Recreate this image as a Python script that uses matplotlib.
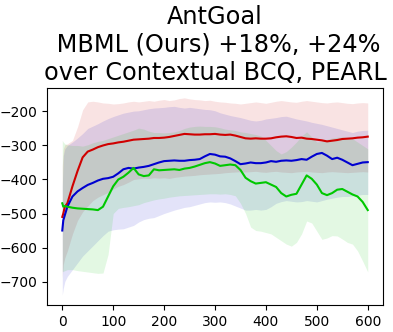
import numpy as np
import matplotlib
matplotlib.use("Agg")
import matplotlib.pyplot as plt

# training iterations (sampled from the reference curves)
steps = [0, 2, 5] + list(range(10, 601, 10))

# MBML (Ours)
mbml_mean = [-510, -500, -480, -470, -420, -375, -335, -318, -312, -305, -300, -296, -294,
             -291, -289, -286, -283, -282, -281, -280, -278, -278, -277, -275, -272, -269,
             -266, -267, -268, -268, -267, -267, -266, -268, -269, -268, -271, -275, -279,
             -280, -279, -280, -280, -279, -276, -274, -273, -275, -278, -277, -280, -281,
             -283, -285, -288, -286, -284, -281, -280, -279, -277, -276, -274]
mbml_lo = [-690, -650, -630, -610, -560, -520, -495, -478, -462, -452, -445, -438, -428,
           -420, -415, -408, -400, -398, -396, -397, -395, -396, -395, -397, -394, -392,
           -390, -389, -388, -386, -385, -384, -383, -382, -380, -379, -378, -377, -378,
           -377, -376, -378, -379, -377, -376, -378, -379, -380, -378, -377, -376, -378,
           -379, -380, -378, -377, -378, -379, -380, -379, -378, -377, -378]
mbml_hi = [-360, -310, -298, -295, -285, -245, -195, -172, -170, -172, -175, -176, -178,
           -177, -175, -172, -170, -172, -170, -168, -170, -167, -165, -168, -166, -162,
           -160, -163, -165, -166, -168, -167, -170, -172, -173, -175, -176, -178, -176,
           -174, -172, -174, -176, -173, -170, -168, -170, -172, -173, -170, -168, -170,
           -172, -174, -175, -173, -172, -174, -176, -177, -175, -174, -175]

# Contextual BCQ
bcq_mean = [-550, -520, -505, -480, -450, -435, -425, -416, -410, -403, -398, -396, -392,
            -382, -370, -366, -368, -365, -363, -360, -355, -350, -346, -345, -344, -345,
            -345, -343, -342, -340, -332, -325, -327, -332, -333, -338, -346, -355, -353,
            -350, -352, -352, -350, -346, -348, -345, -344, -345, -343, -340, -342, -333,
            -325, -322, -330, -340, -336, -342, -350, -358, -354, -350, -349]
bcq_lo = [-740, -720, -700, -685, -665, -645, -625, -610, -595, -580, -565, -552, -548,
          -546, -545, -540, -535, -525, -518, -514, -512, -506, -500, -495, -490, -486,
          -482, -480, -476, -472, -468, -466, -467, -466, -468, -472, -478, -484, -490,
          -490, -488, -490, -488, -480, -470, -465, -462, -464, -466, -465, -462, -464,
          -466, -462, -458, -455, -452, -450, -450, -448, -446, -444, -444]
bcq_hi = [-420, -330, -310, -300, -290, -278, -265, -250, -243, -236, -228, -221, -215,
          -210, -205, -202, -199, -198, -195, -192, -190, -189, -188, -186, -185, -188,
          -190, -188, -190, -192, -194, -195, -198, -204, -208, -212, -215, -218, -222,
          -226, -228, -226, -222, -220, -218, -215, -214, -218, -222, -225, -228, -232,
          -235, -238, -242, -246, -250, -254, -258, -262, -258, -256, -255]

# PEARL
pearl_mean = [-470, -480, -478, -480, -483, -485, -486, -487, -488, -490, -480, -450, -420,
              -400, -392, -380, -366, -385, -390, -388, -370, -373, -372, -371, -370, -372,
              -368, -366, -362, -357, -352, -349, -353, -360, -358, -356, -358, -372, -395,
              -405, -412, -410, -408, -415, -422, -440, -450, -445, -442, -415, -388, -398,
              -415, -440, -446, -440, -430, -428, -436, -444, -450, -466, -490]
pearl_lo = [-670, -670, -668, -665, -665, -668, -670, -672, -674, -676, -675, -620, -500,
            -485, -482, -480, -477, -474, -468, -464, -460, -457, -455, -452, -450, -448,
            -447, -446, -445, -444, -443, -442, -442, -443, -442, -444, -448, -470, -500,
            -540, -550, -552, -556, -560, -570, -580, -590, -596, -585, -560, -522, -528,
            -552, -576, -572, -565, -566, -575, -585, -590, -610, -640, -672]
pearl_hi = [-285, -290, -295, -298, -300, -300, -302, -298, -292, -288, -285, -280, -275,
            -270, -265, -260, -255, -249, -252, -258, -262, -262, -263, -262, -260, -256,
            -250, -246, -244, -243, -244, -244, -245, -248, -252, -254, -256, -260, -262,
            -265, -268, -272, -285, -300, -315, -325, -318, -305, -290, -272, -260, -275,
            -290, -288, -282, -278, -276, -275, -277, -280, -290, -300, -310]

series = [
    (mbml_mean, mbml_lo, mbml_hi, '#d00000'),
    (bcq_mean, bcq_lo, bcq_hi, '#0000d0'),
    (pearl_mean, pearl_lo, pearl_hi, '#00c800'),
]

fig = plt.figure(figsize=(3.93, 3.32), dpi=100)
ax = fig.add_axes([0.1196, 0.0813, 0.855, 0.6537])

for mean, lo, hi, color in series:
    ax.fill_between(steps, lo, hi, color=color, alpha=0.11, linewidth=0)
for mean, lo, hi, color in series:
    ax.plot(steps, mean, color=color, linewidth=1.5)

ax.set_xticks([0, 100, 200, 300, 400, 500, 600])
ax.set_yticks([-700, -600, -500, -400, -300, -200])
ax.set_title("AntGoal\n MBML (Ours) +18%, +24%\nover Contextual BCQ, PEARL", fontsize=17.3)

fig.savefig("out.png", dpi=100)
